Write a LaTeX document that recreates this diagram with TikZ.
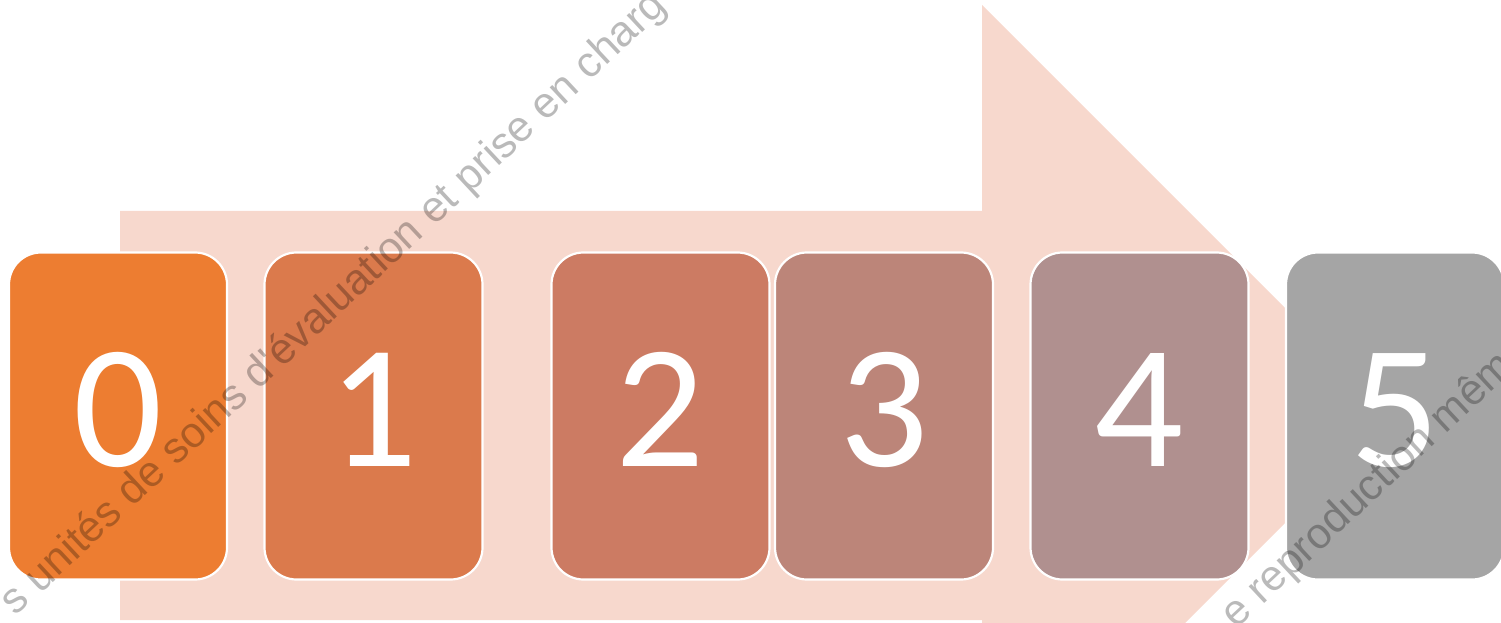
\documentclass[tikz,border=0pt]{standalone}
\usepackage{fontspec}
\newfontfamily\digitfont{Carlito}
\newfontfamily\wmfont{Liberation Sans}
\definecolor{arrowpink}{HTML}{F7D8CD}
\definecolor{c0}{HTML}{ED7D31}
\definecolor{c1}{HTML}{DB7A4C}
\definecolor{c2}{HTML}{CC7B63}
\definecolor{c3}{HTML}{BC8579}
\definecolor{c4}{HTML}{B0908F}
\definecolor{c5}{HTML}{A5A5A5}
\begin{document}
\begin{tikzpicture}[x=1pt,y=1pt,
  stagebox/.style={draw=white, line width=2.2pt, rounded corners=32pt,
    minimum width=218pt, minimum height=327pt, inner sep=0pt},
  digit/.style={text=white, font=\digitfont\fontsize{176}{176}\selectfont,
    inner sep=0pt, anchor=base},
  watermark/.style={text=black, text opacity=0.27,
    font=\wmfont\fontsize{43}{43}\selectfont, rotate=43,
    anchor=base west, inner sep=0pt}]
\useasboundingbox (0,0) rectangle (1501,622);
\clip (0,0) rectangle (1501,622);
% big background arrow
\fill[arrowpink] (120,2) -- (120,411) -- (982,411) -- (982,617)
  -- (1392.5,206.5) -- (982,-204) -- (982,2) -- cycle;
% stage boxes
\node[stagebox, fill=c0] (b0) at (118,206) {};
\node[stagebox, fill=c1] (b1) at (373.5,206) {};
\node[stagebox, fill=c2] (b2) at (660.5,206) {};
\node[stagebox, fill=c3] (b3) at (884,206) {};
\node[stagebox, fill=c4] (b4) at (1139.5,206) {};
\node[stagebox, fill=c5] (b5) at (1395,206) {};
% digits
\node[digit] (d0) at (118,156) {0};
\node[digit] (d1) at (373.5,156) {1};
\node[digit] (d2) at (660.5,156) {2};
\node[digit] (d3) at (884,156) {3};
\node[digit] (d4) at (1139.5,156) {4};
\node[digit] (d5) at (1395,156) {5};
% watermark
\node[watermark] (w1) at (15.5,5) {s unités de soins d'évaluation et prise en charg};
\node[watermark] (w2) at (1236,-8) {e reproduction mêm};
\end{tikzpicture}
\end{document}
